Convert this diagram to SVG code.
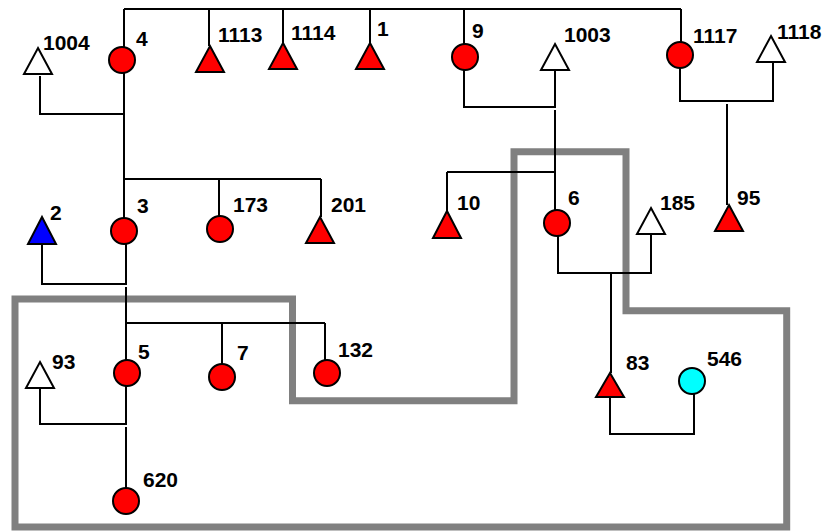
<svg xmlns="http://www.w3.org/2000/svg" width="823" height="531" viewBox="0 0 823 531">
<style>
.c{stroke:#000;stroke-width:2;fill:#f00}
.o{fill:#fff}
.b{fill:#0000ff}
.cy{fill:#00ffff}
.t{font-family:"Liberation Sans",Arial,sans-serif;font-weight:bold;font-size:21px;fill:#000}
.l{stroke:#000;stroke-width:2;fill:none}
.g{stroke:#808080;stroke-width:7;fill:none}
</style>
<rect width="823" height="531" fill="#fff"/>
<path class="g" d="M15,299 H292.5 V400.8 H514 V151.7 H626 V310.7 H786.7 V527 H15 Z"/>
<g id="connectors">
<path class="l" d="M124,9 H681 M124,9 V47 M209,9 V46 M283,9 V43 M370,9 V43 M464,9 V44 M681,9 V42"/>
<path class="l" d="M40,76 V114 H124 M124,73 V179 M124,179 H321 M124,179 V218 M219,179 V216 M321,179 V217"/>
<path class="l" d="M464,70 V107 H555 V70 M555,110 V210 M447,172 H555 M447,172 V211"/>
<path class="l" d="M680,68 V101 H773 V62 M727,104 V205"/>
<path class="l" d="M42,244 V284 H126 V244 M126,287 V323 H325 M126,323 V360 M222,323 V364 M325,323 V360"/>
<path class="l" d="M40,388 V424 H126 V386 M126,427 V488"/>
<path class="l" d="M558,236 V273 H651 V234 M611,273 V373"/>
<path class="l" d="M610,397 V434 H694 V394"/>
</g>
<g id="n4"><circle class="c" cx="122" cy="60" r="13"/><text class="t" x="136" y="46">4</text></g>
<g id="n1004"><polygon class="c o" points="38,48 52,74 24,74"/><text class="t" x="43" y="50">1004</text></g>
<g id="n1113"><polygon class="c" points="210,46 224,72 196,72"/><text class="t" x="218" y="42">1113</text></g>
<g id="n1114"><polygon class="c" points="283,43 297,69 269,69"/><text class="t" x="291" y="40">1114</text></g>
<g id="n1"><polygon class="c" points="370,43 384,69 356,69"/><text class="t" x="377" y="36">1</text></g>
<g id="n9"><circle class="c" cx="465" cy="57" r="13"/><text class="t" x="472" y="38">9</text></g>
<g id="n1003"><polygon class="c o" points="555,44 569,70 541,70"/><text class="t" x="564" y="42">1003</text></g>
<g id="n1117"><circle class="c" cx="680" cy="55" r="13"/><text class="t" x="693" y="43">1117</text></g>
<g id="n1118"><polygon class="c o" points="771,36 785,62 757,62"/><text class="t" x="777" y="39">1118</text></g>
<g id="n2"><polygon class="c b" points="42,217 56,244 28,244"/><text class="t" x="50" y="220">2</text></g>
<g id="n3"><circle class="c" cx="124" cy="231" r="13"/><text class="t" x="137" y="213">3</text></g>
<g id="n173"><circle class="c" cx="220" cy="229" r="13"/><text class="t" x="233" y="212">173</text></g>
<g id="n201"><polygon class="c" points="320,217 334,243 306,243"/><text class="t" x="331" y="212">201</text></g>
<g id="n10"><polygon class="c" points="447,211 461,238 433,238"/><text class="t" x="457" y="210">10</text></g>
<g id="n6"><circle class="c" cx="557" cy="223" r="13"/><text class="t" x="568" y="205">6</text></g>
<g id="n185"><polygon class="c o" points="651,208 665,234 637,234"/><text class="t" x="660" y="210">185</text></g>
<g id="n95"><polygon class="c" points="729,205 743,231 715,231"/><text class="t" x="737" y="205">95</text></g>
<g id="n93"><polygon class="c o" points="40,362 54,388 26,388"/><text class="t" x="52" y="369">93</text></g>
<g id="n5"><circle class="c" cx="127" cy="373" r="13"/><text class="t" x="138" y="359">5</text></g>
<g id="n7"><circle class="c" cx="222" cy="377" r="13"/><text class="t" x="237" y="360">7</text></g>
<g id="n132"><circle class="c" cx="327" cy="373" r="13"/><text class="t" x="338" y="357">132</text></g>
<g id="n620"><circle class="c" cx="126" cy="501" r="13"/><text class="t" x="143" y="487">620</text></g>
<g id="n83"><polygon class="c" points="610,373 624,397 596,397"/><text class="t" x="626" y="370">83</text></g>
<g id="n546"><circle class="c cy" cx="692" cy="381" r="13"/><text class="t" x="707" y="366">546</text></g>
</svg>
